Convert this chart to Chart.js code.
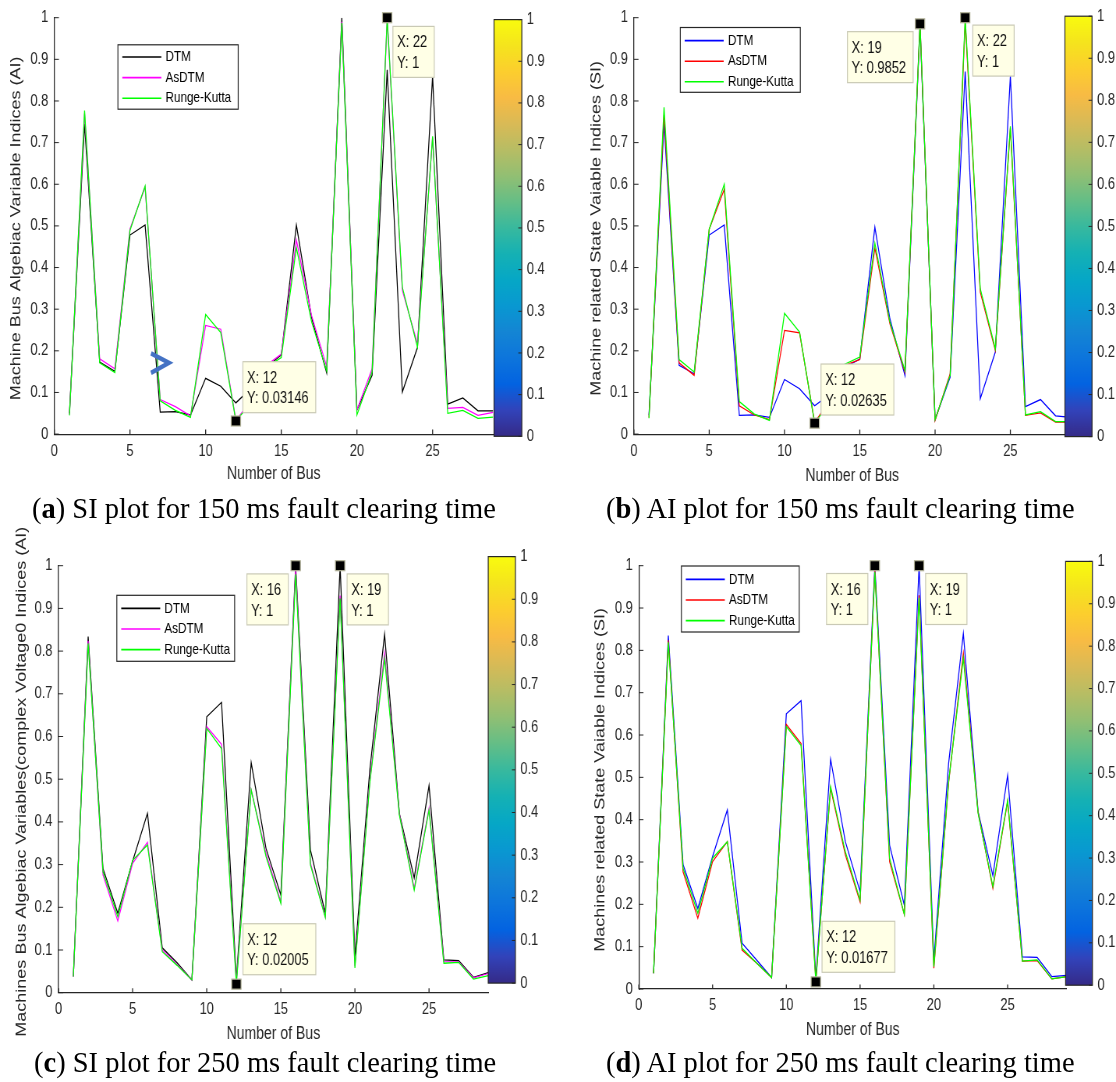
<!DOCTYPE html>
<html>
<head>
<meta charset="utf-8">
<script src="https://cdn.jsdelivr.net/npm/chart.js@4.4.1/dist/chart.umd.min.js"></script>
<style>
html, body { margin: 0; padding: 0; background: #fff; }
#fig { position: relative; width: 1116px; height: 1082px; overflow: hidden; background: #fff; }
#fig canvas { position: absolute; }
.cap { position: absolute; font-family: "Liberation Serif", "Times New Roman", serif; font-size: 28.5px;
       line-height: 34px; white-space: nowrap; color: #000; }
</style>
</head>
<body>
<div id="fig">
  <canvas id="pa"></canvas>
  <canvas id="pb"></canvas>
  <canvas id="pc"></canvas>
  <canvas id="pd"></canvas>
  <div class="cap" style="left:32px; top:492px">(<b>a</b>) SI plot for 150 ms fault clearing time</div>
  <div class="cap" style="left:606px; top:492px">(<b>b</b>) AI plot for 150 ms fault clearing time</div>
  <div class="cap" style="left:34px; top:1046px">(<b>c</b>) SI plot for 250 ms fault clearing time</div>
  <div class="cap" style="left:606px; top:1046px">(<b>d</b>) AI plot for 250 ms fault clearing time</div>
</div>
<script>
// bus numbers on the x axis
var buses = [1, 2, 3, 4, 5, 6, 7, 8, 9, 10, 11, 12, 13, 14, 15, 16, 17, 18, 19, 20, 21, 22, 23, 24, 25, 26, 27, 28, 29];
var xTickValues = [0, 5, 10, 15, 20, 25];
var yTickValues = [0, 0.1, 0.2, 0.3, 0.4, 0.5, 0.6, 0.7, 0.8, 0.9, 1];
var yTickLabels = ['0', '0.1', '0.2', '0.3', '0.4', '0.5', '0.6', '0.7', '0.8', '0.9', '1'];
var cbarTickLabels = ['0', '0.1', '0.2', '0.3', '0.4', '0.5', '0.6', '0.7', '0.8', '0.9', '1'];
var seriesNames = ['DTM', 'AsDTM', 'Runge-Kutta'];
var xTitle = 'Number of Bus';

// (a) SI plot, 150 ms
var dtmA   = [0.05, 0.745, 0.173, 0.151, 0.478, 0.502, 0.053, 0.054, 0.046, 0.134, 0.115, 0.075, 0.11, 0.16, 0.19, 0.502, 0.28, 0.147, 1.0, 0.058, 0.141, 0.875, 0.101, 0.208, 0.86, 0.072, 0.087, 0.056, 0.056];
var asdtmA = [0.047, 0.77, 0.181, 0.157, 0.493, 0.593, 0.083, 0.066, 0.044, 0.261, 0.252, 0.033, 0.08, 0.165, 0.192, 0.466, 0.285, 0.162, 0.99, 0.058, 0.157, 0.995, 0.345, 0.217, 0.712, 0.062, 0.064, 0.045, 0.052];
var rkA    = [0.045, 0.777, 0.171, 0.148, 0.489, 0.596, 0.08, 0.057, 0.04, 0.287, 0.244, 0.03146, 0.075, 0.16, 0.184, 0.448, 0.27, 0.152, 0.987, 0.046, 0.149, 1, 0.353, 0.209, 0.715, 0.05, 0.057, 0.038, 0.041];

// (b) AI plot, 150 ms
var dtmB   = [0.045, 0.745, 0.165, 0.145, 0.478, 0.502, 0.045, 0.046, 0.04, 0.131, 0.109, 0.068, 0.095, 0.16, 0.18, 0.497, 0.277, 0.141, 0.98, 0.035, 0.137, 0.871, 0.085, 0.197, 0.86, 0.066, 0.083, 0.044, 0.04];
var asdtmB = [0.04, 0.767, 0.171, 0.141, 0.492, 0.588, 0.068, 0.046, 0.035, 0.249, 0.243, 0.028, 0.08, 0.165, 0.179, 0.447, 0.265, 0.149, 0.985, 0.033, 0.145, 0.99, 0.341, 0.201, 0.735, 0.045, 0.051, 0.029, 0.029];
var rkB    = [0.038, 0.785, 0.179, 0.149, 0.492, 0.6, 0.078, 0.048, 0.033, 0.29, 0.245, 0.02635, 0.075, 0.168, 0.185, 0.459, 0.269, 0.153, 0.9852, 0.035, 0.141, 1, 0.349, 0.205, 0.739, 0.046, 0.054, 0.03, 0.03];

// (c) SI plot, 250 ms
var dtmC   = [0.038, 0.834, 0.291, 0.186, 0.308, 0.42, 0.105, 0.07, 0.03, 0.646, 0.68, 0.03, 0.539, 0.338, 0.229, 1, 0.334, 0.186, 1, 0.085, 0.52, 0.839, 0.42, 0.269, 0.485, 0.077, 0.075, 0.036, 0.047];
var asdtmC = [0.038, 0.824, 0.276, 0.168, 0.303, 0.352, 0.1, 0.066, 0.03, 0.623, 0.582, 0.025, 0.475, 0.326, 0.213, 0.99, 0.303, 0.178, 0.93, 0.062, 0.495, 0.795, 0.418, 0.244, 0.432, 0.073, 0.072, 0.035, 0.045];
var rkC    = [0.038, 0.818, 0.283, 0.178, 0.31, 0.346, 0.096, 0.064, 0.03, 0.619, 0.572, 0.02005, 0.475, 0.319, 0.209, 0.98, 0.299, 0.176, 0.923, 0.058, 0.49, 0.783, 0.416, 0.24, 0.428, 0.069, 0.071, 0.032, 0.04];

// (d) AI plot, 250 ms
var dtmD   = [0.037, 0.835, 0.294, 0.19, 0.313, 0.423, 0.108, 0.068, 0.027, 0.65, 0.681, 0.025, 0.543, 0.348, 0.23, 1, 0.34, 0.198, 1, 0.068, 0.533, 0.84, 0.419, 0.268, 0.505, 0.076, 0.075, 0.029, 0.032];
var asdtmD = [0.037, 0.824, 0.277, 0.167, 0.301, 0.348, 0.092, 0.061, 0.027, 0.625, 0.58, 0.02, 0.474, 0.317, 0.206, 0.99, 0.301, 0.176, 0.93, 0.049, 0.487, 0.793, 0.417, 0.238, 0.443, 0.066, 0.067, 0.024, 0.029];
var rkD    = [0.037, 0.819, 0.285, 0.179, 0.309, 0.348, 0.096, 0.061, 0.027, 0.62, 0.575, 0.01677, 0.478, 0.324, 0.21, 0.985, 0.309, 0.176, 0.924, 0.053, 0.49, 0.781, 0.415, 0.242, 0.446, 0.066, 0.069, 0.024, 0.029];

// parula colormap samples (bottom -> top of the colorbar)
var parula = ['#352a87', '#3243ba', '#0363e1', '#0d75dc', '#1485d4', '#0998d1', '#06a7c6', '#15b1b4',
              '#38b99e', '#65be86', '#92bf73', '#b7bd64', '#d9ba56', '#f8bb44', '#fcce2e', '#f5e41d', '#f9fb0e'];

var FONT = '"Liberation Sans", Arial, sans-serif';
var AXIS = '#262626';
var SQUEEZE = 0.78;   // the original figure is squashed horizontally

// layout of the four panels, in screen px relative to each canvas
var panels = [
  { id: 'pa', left: 0, top: 0, w: 556, h: 500, series: [dtmA, asdtmA, rkA], colors: ['#000000', '#ff00ff', '#00ff00'],
    yTitle: 'Machine Bus Algebiac Variable Indices (AI)', yTitleX: 16.4, xTitleY: 474.5,
    area: { l: 54.3, r: 493.1, t: 16.1, b: 434.1 }, cbar: { l: 494, r: 521.8, t: 19.6, b: 436.3 },
    legend: { l: 117.9, t: 44.8, w: 120.3, h: 64.4, row0: 12.2 },
    tips: [{ s: 2, bus: 22, dx: 5.7, dy: 8.7 }, { s: 2, bus: 12, dx: 7, dy: -59.3 }],
    chevron: { x: 7.58, y: 0.171 } },
  { id: 'pb', left: 556, top: 0, w: 560, h: 500, series: [dtmB, asdtmB, rkB], colors: ['#0000ff', '#ff0000', '#00ff00'],
    yTitle: 'Machine related State Vaiable Indices (SI)', yTitleX: 40.4, xTitleY: 476.2,
    area: { l: 77.9, r: 514.6, t: 16, b: 434.1 }, cbar: { l: 508.9, r: 536, t: 16.2, b: 436.6 },
    legend: { l: 124.3, t: 27.5, w: 120, h: 64.8, row0: 13.1 },
    tips: [{ s: 2, bus: 19, side: 'L', gap: 6.9, dy: 7.8 }, { s: 2, bus: 22, dx: 7.6, dy: 7.4 }, { s: 2, bus: 12, dx: 6.4, dy: -59.1 }] },
  { id: 'pc', left: 0, top: 500, w: 556, h: 560, series: [dtmC, asdtmC, rkC], colors: ['#000000', '#ff00ff', '#00ff00'],
    yTitle: 'Machines Bus Algebiac Variables(complex Voltage0 Indices (AI)', yTitleX: 22, xTitleY: 534.3,
    area: { l: 58.5, r: 488.3, t: 65.7, b: 492.7 }, cbar: { l: 488.2, r: 515.4, t: 56.6, b: 483.1 },
    legend: { l: 116.8, t: 95.3, w: 117.8, h: 66, row0: 13.1 },
    tips: [{ s: 0, bus: 16, side: 'L', gap: 7.4, dy: 8.2 }, { s: 0, bus: 19, dx: 7, dy: 8.2 }, { s: 2, bus: 12, dx: 6.6, dy: -60.4 }] },
  { id: 'pd', left: 556, top: 500, w: 560, h: 560, series: [dtmD, asdtmD, rkD], colors: ['#0000ff', '#ff0000', '#00ff00'],
    yTitle: 'Machines related State Vaiable Indices (SI)', yTitleX: 44.8, xTitleY: 530.2,
    area: { l: 82.8, r: 510.6, t: 65.7, b: 489 }, cbar: { l: 509.6, r: 536.4, t: 61.4, b: 485.2 },
    legend: { l: 125.4, t: 66, w: 117.8, h: 66, row0: 13.4 },
    tips: [{ s: 0, bus: 16, side: 'L', gap: 7, dy: 7.8 }, { s: 0, bus: 19, dx: 6.5, dy: 7.8 }, { s: 2, bus: 12, dx: 6.2, dy: -60.6 }] }
];

function fmtTip(v) {
  return String(Number(v.toPrecision(4)));
}

// everything MATLAB draws around the lines: ticks, labels, legend, datatips, colorbar
function makeDecor(p, K) {
  var X = function (v) { return v / K; };
  return {
    id: 'matlabDecor',
    afterDatasetsDraw: function (chart) {
      var ctx = chart.ctx, a = chart.chartArea;
      var xs = chart.scales.x, ys = chart.scales.y;
      ctx.save();

      // inward ticks
      ctx.strokeStyle = AXIS;
      ctx.lineWidth = 1.3;
      xTickValues.forEach(function (v) {
        var px = xs.getPixelForValue(v);
        ctx.beginPath(); ctx.moveTo(px, a.bottom); ctx.lineTo(px, a.bottom - 4.5); ctx.stroke();
      });
      ctx.lineWidth = 1;
      yTickValues.forEach(function (v) {
        var py = ys.getPixelForValue(v);
        ctx.beginPath(); ctx.moveTo(a.left, py); ctx.lineTo(a.left + X(4.6), py); ctx.stroke();
      });

      // rotated y label
      ctx.save();
      ctx.translate(X(p.yTitleX), (a.top + a.bottom) / 2 + 2.5);
      ctx.rotate(-Math.PI / 2);
      ctx.font = '18px ' + FONT;
      ctx.fillStyle = AXIS;
      ctx.textAlign = 'center';
      ctx.textBaseline = 'middle';
      ctx.fillText(p.yTitle, 0, 0);
      ctx.restore();

      // legend box
      var L = p.legend;
      ctx.fillStyle = '#ffffff';
      ctx.fillRect(X(L.l), L.t, X(L.w), L.h);
      ctx.strokeStyle = AXIS;
      ctx.lineWidth = 1.2;
      ctx.strokeRect(X(L.l), L.t, X(L.w), L.h);
      ctx.font = '15px ' + FONT;
      ctx.textAlign = 'left';
      ctx.textBaseline = 'middle';
      seriesNames.forEach(function (name, i) {
        var y = L.t + L.row0 + i * 20.6;
        ctx.strokeStyle = p.colors[i];
        ctx.lineWidth = 1.6;
        ctx.beginPath(); ctx.moveTo(X(L.l + 4.4), y); ctx.lineTo(X(L.l + 43.4), y); ctx.stroke();
        ctx.fillStyle = '#000';
        ctx.fillText(name, X(L.l + 47.6), y);
      });

      // the blue cursor mark left on plot (a)
      if (p.chevron) {
        var cx = xs.getPixelForValue(p.chevron.x), cy = ys.getPixelForValue(p.chevron.y);
        ctx.strokeStyle = '#4472c4';
        ctx.lineWidth = 4.5;
        ctx.beginPath();
        ctx.moveTo(cx - X(18), cy - 9.5); ctx.lineTo(cx, cy); ctx.lineTo(cx - X(18), cy + 10);
        ctx.stroke();
      }

      // datatips
      p.tips.forEach(function (t) {
        var v = p.series[t.s][buses.indexOf(t.bus)];
        var mx = xs.getPixelForValue(t.bus), my = ys.getPixelForValue(v);
        var l1 = 'X: ' + t.bus, l2 = 'Y: ' + fmtTip(v);
        ctx.font = '16.5px ' + FONT;
        var tw = Math.max(ctx.measureText(l1).width, ctx.measureText(l2).width) * K;
        var bw = tw + 11.3, bh = 51;
        var bl = t.side === 'L' ? mx * K - t.gap - bw : mx * K + t.dx;
        var bt = my + t.dy;
        ctx.fillStyle = '#ffffe6';
        ctx.fillRect(X(bl), bt, X(bw), bh);
        ctx.strokeStyle = '#c9c9b5';
        ctx.lineWidth = 1.2;
        ctx.strokeRect(X(bl), bt, X(bw), bh);
        ctx.fillStyle = '#111';
        ctx.textAlign = 'left';
        ctx.textBaseline = 'middle';
        ctx.fillText(l1, X(bl + 4.2), bt + 16.5);
        ctx.fillText(l2, X(bl + 4.2), bt + 37.2);
        ctx.fillStyle = '#000';
        ctx.fillRect(mx - X(4.7), my - 5, X(9.4), 10);
        ctx.strokeStyle = '#b4b49a';
        ctx.lineWidth = 1.2;
        ctx.strokeRect(mx - X(4.7), my - 5, X(9.4), 10);
      });

      // colorbar
      var cb = p.cbar;
      var g = ctx.createLinearGradient(0, cb.b, 0, cb.t);
      parula.forEach(function (c, i) { g.addColorStop(i / (parula.length - 1), c); });
      ctx.fillStyle = g;
      ctx.fillRect(X(cb.l), cb.t, X(cb.r - cb.l), cb.b - cb.t);
      ctx.strokeStyle = AXIS;
      ctx.lineWidth = 1.2;
      ctx.strokeRect(X(cb.l), cb.t, X(cb.r - cb.l), cb.b - cb.t);
      ctx.font = '16.5px ' + FONT;
      ctx.fillStyle = AXIS;
      ctx.textAlign = 'left';
      ctx.textBaseline = 'middle';
      ctx.lineWidth = 1;
      cbarTickLabels.forEach(function (lab, i) {
        var y = cb.b - (i / (cbarTickLabels.length - 1)) * (cb.b - cb.t);
        ctx.beginPath(); ctx.moveTo(X(cb.r - 3.5), y); ctx.lineTo(X(cb.r), y); ctx.stroke();
        ctx.fillText(lab, X(cb.r + 5), y);
      });

      ctx.restore();
    }
  };
}

function drawPanel(p) {
  var intW = Math.round(p.w / SQUEEZE);
  var K = p.w / intW;
  var cv = document.getElementById(p.id);
  cv.width = intW;
  cv.height = p.h;
  cv.style.left = p.left + 'px';
  cv.style.top = p.top + 'px';
  cv.style.width = p.w + 'px';
  cv.style.height = p.h + 'px';

  var xScaleH = p.xTitleY - p.area.b + 10.8;

  var datasets = p.series.map(function (arr, i) {
    return {
      label: seriesNames[i],
      data: buses.map(function (b, j) { return { x: b, y: arr[j] }; }),
      borderColor: p.colors[i],
      borderWidth: 1.25,
      pointRadius: 0,
      tension: 0,
      fill: false,
      order: 3 - i
    };
  });

  new Chart(cv, {
    type: 'line',
    data: { datasets: datasets },
    options: {
      responsive: false,
      animation: false,
      devicePixelRatio: 1,
      events: [],
      layout: { padding: { left: 0, top: p.area.t, right: intW - p.area.r / K, bottom: p.h - p.area.b - xScaleH } },
      plugins: { legend: { display: false }, tooltip: { enabled: false } },
      scales: {
        x: {
          type: 'linear', min: 0, max: 29,
          afterBuildTicks: function (s) { s.ticks = xTickValues.map(function (v) { return { value: v }; }); },
          afterFit: function (s) { s.height = xScaleH; },
          grid: { display: false, drawTicks: false },
          border: { display: true, color: AXIS, width: 1.2 },
          ticks: { padding: 7, autoSkip: false, maxRotation: 0, color: AXIS, font: { family: FONT, size: 16.5 },
                   callback: function (v) { return String(v); } },
          title: { display: true, text: xTitle, color: AXIS, padding: 0, font: { family: FONT, size: 18 } }
        },
        y: {
          type: 'linear', min: 0, max: 1,
          afterBuildTicks: function (s) { s.ticks = yTickValues.map(function (v) { return { value: v }; }); },
          afterFit: function (s) { s.width = p.area.l / K; },
          grid: { display: false, drawTicks: false },
          border: { display: true, color: AXIS, width: 1.3 },
          ticks: { padding: 7.8, autoSkip: false, color: AXIS, font: { family: FONT, size: 16.5 },
                   callback: function (v, i) { return yTickLabels[i]; } }
        }
      }
    },
    plugins: [makeDecor(p, K)]
  });
}

panels.forEach(drawPanel);
</script>
</body>
</html>
